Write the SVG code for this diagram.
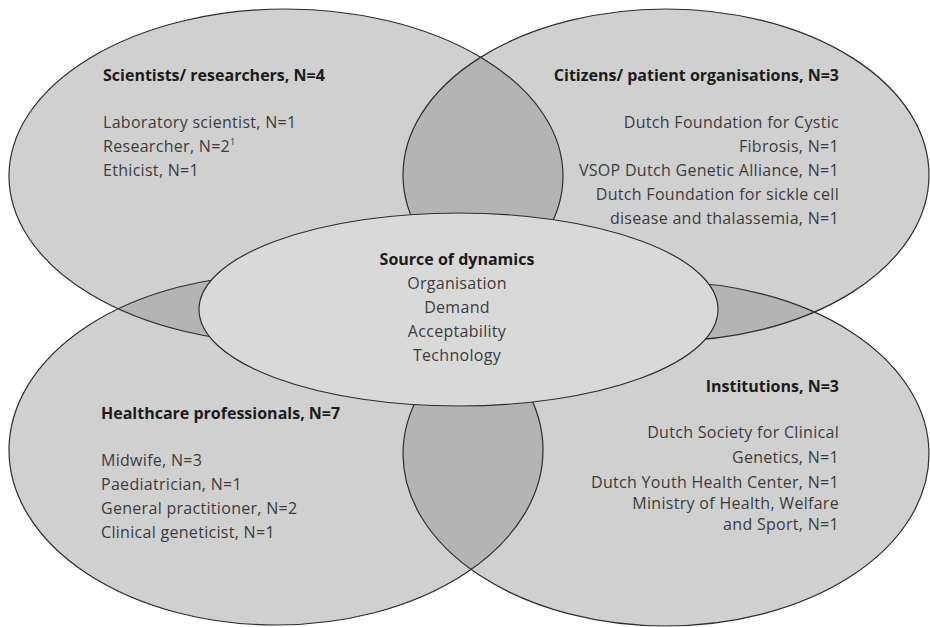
<svg xmlns="http://www.w3.org/2000/svg" width="930" height="627" viewBox="0 0 930 627">
  <style>
    .fill { fill: #d0d0d0; stroke: none; }
    .lens { fill: #b4b4b4; stroke: none; }
    .edge { fill: none; stroke: #2e2e2e; stroke-width: 1.2; }
    .core { fill: #d9d9d9; stroke: #2e2e2e; stroke-width: 1.2; }
    text { font-family: "Open Sans", "Noto Sans", "DejaVu Sans", sans-serif; font-size: 16px; letter-spacing: 0.3px; fill: #3c3c3c; }
    .head { font-weight: bold; letter-spacing: 0; fill: #1c1c1c; }
    .end { text-anchor: end; }
    .mid { text-anchor: middle; }
  </style>
  <defs>
    <clipPath id="clip-tl"><ellipse cx="286" cy="176" rx="277" ry="167"/></clipPath>
    <clipPath id="clip-tr"><ellipse cx="666" cy="175" rx="263" ry="166"/></clipPath>
    <clipPath id="clip-bl"><ellipse cx="276" cy="450" rx="267" ry="175"/></clipPath>
  </defs>
  <rect width="930" height="627" fill="#ffffff"/>

  <!-- base fills of the four stakeholder sets -->
  <g id="fills">
    <ellipse class="fill" cx="286" cy="176" rx="277" ry="167"/>
    <ellipse class="fill" cx="666" cy="175" rx="263" ry="166"/>
    <ellipse class="fill" cx="276" cy="450" rx="267" ry="175"/>
    <ellipse class="fill" cx="666" cy="454" rx="263" ry="172"/>
  </g>

  <!-- shaded overlaps between neighbouring sets -->
  <g id="overlaps">
    <ellipse class="lens" cx="666" cy="175" rx="263" ry="166" clip-path="url(#clip-tl)"/>
    <ellipse class="lens" cx="276" cy="450" rx="267" ry="175" clip-path="url(#clip-tl)"/>
    <ellipse class="lens" cx="666" cy="454" rx="263" ry="172" clip-path="url(#clip-tr)"/>
    <ellipse class="lens" cx="666" cy="454" rx="263" ry="172" clip-path="url(#clip-bl)"/>
  </g>

  <g id="scientists">
    <ellipse class="edge" cx="286" cy="176" rx="277" ry="167"/>
    <text class="head" x="103" y="81">Scientists/ researchers, N=4</text>
    <text x="103" y="128">Laboratory scientist, N=1</text>
    <text x="103" y="152">Researcher, N=2<tspan font-size="9" dy="-7">1</tspan></text>
    <text x="103" y="176">Ethicist, N=1</text>
  </g>

  <g id="citizens">
    <ellipse class="edge" cx="666" cy="175" rx="263" ry="166"/>
    <text class="head end" x="839" y="81">Citizens/ patient organisations, N=3</text>
    <text class="end" x="839" y="128">Dutch Foundation for Cystic</text>
    <text class="end" x="839" y="152">Fibrosis, N=1</text>
    <text class="end" x="839" y="176">VSOP Dutch Genetic Alliance, N=1</text>
    <text class="end" x="839" y="200">Dutch Foundation for sickle cell</text>
    <text class="end" x="839" y="224">disease and thalassemia, N=1</text>
  </g>

  <g id="professionals">
    <ellipse class="edge" cx="276" cy="450" rx="267" ry="175"/>
    <text class="head" x="101" y="419">Healthcare professionals, N=7</text>
    <text x="101" y="466">Midwife, N=3</text>
    <text x="101" y="490">Paediatrician, N=1</text>
    <text x="101" y="514">General practitioner, N=2</text>
    <text x="101" y="538">Clinical geneticist, N=1</text>
  </g>

  <g id="institutions">
    <ellipse class="edge" cx="666" cy="454" rx="263" ry="172"/>
    <text class="head end" x="839" y="392">Institutions, N=3</text>
    <text class="end" x="839" y="438">Dutch Society for Clinical</text>
    <text class="end" x="839" y="463">Genetics, N=1</text>
    <text class="end" x="839" y="488">Dutch Youth Health Center, N=1</text>
    <text class="end" x="839" y="509">Ministry of Health, Welfare</text>
    <text class="end" x="839" y="530">and Sport, N=1</text>
  </g>

  <g id="dynamics">
    <ellipse class="core" cx="458.5" cy="309.5" rx="259.5" ry="96.5"/>
    <text class="head mid" x="457" y="265">Source of dynamics</text>
    <text class="mid" x="457" y="289">Organisation</text>
    <text class="mid" x="457" y="313">Demand</text>
    <text class="mid" x="457" y="337">Acceptability</text>
    <text class="mid" x="457" y="361">Technology</text>
  </g>

  <!-- no connectors in this diagram -->
  <g id="connectors"/>
</svg>
